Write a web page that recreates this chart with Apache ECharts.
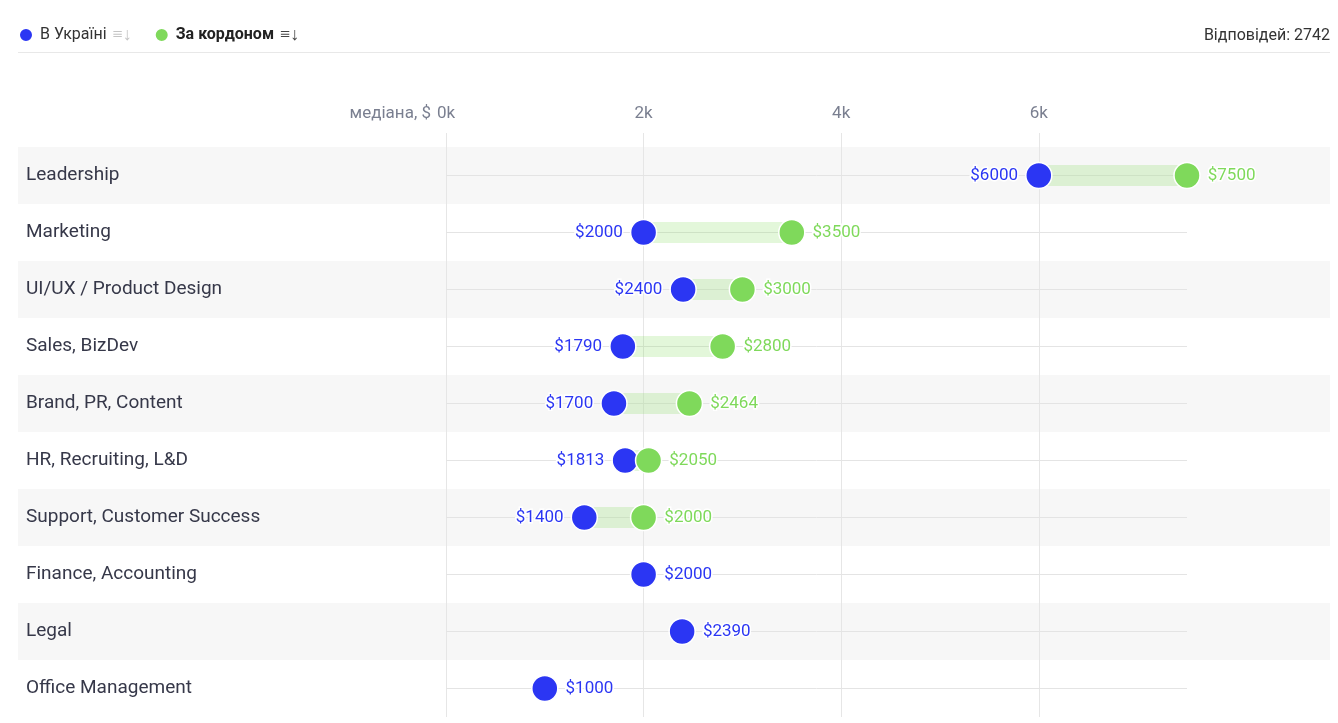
<!DOCTYPE html>
<html><head><meta charset="utf-8">
<script src="https://cdn.jsdelivr.net/npm/echarts@6/dist/echarts.min.js"></script>
<style>html,body{margin:0;padding:0;background:#fff}#c{width:1338px;height:723px}</style>
</head><body><div id="c"></div>
<script>
const categories = ['Leadership','Marketing','UI/UX / Product Design','Sales, BizDev','Brand, PR, Content','HR, Recruiting, L&D','Support, Customer Success','Finance, Accounting','Legal','Office Management'];
const ukraine = [6000,2000,2400,1790,1700,1813,1400,2000,2390,1000];
const abroad  = [7500,3500,3000,2800,2464,2050,2000,null,null,null];
const xTickValues = [0,2000,4000,6000];
const xMax = 7500;
const responses = 2742;

const FONT = 'Roboto';
const FS = {row:19, val:17, axis:17, legend:16, icon:18};
const BLUE = '#2b36f3', GREEN = '#7fd95b';
const rangeBase = ukraine.map((v,i)=> abroad[i]==null ? '-' : Math.min(v, abroad[i]));
const rangeLen  = ukraine.map((v,i)=> abroad[i]==null ? '-' : Math.abs(abroad[i]-v));

const chart = echarts.init(document.getElementById('c'));
chart.setOption({
  animation:false,
  textStyle:{fontFamily:FONT},
  title:{text:'Відповідей: '+responses, right:3, top:23,
    textStyle:{fontSize:FS.legend, fontWeight:'normal', color:'#333', fontFamily:FONT}},
  legend:{data:['В Україні','За кордоном'], left:18, top:26, padding:0, icon:'circle', itemWidth:18, itemHeight:14, itemGap:22,
    selectedMode:false,
    formatter: n => n==='В Україні' ? '{a|'+n+'}  {ia|≡↓}' : '{b|'+n+'}  {ib|≡↓}',
    textStyle:{fontFamily:FONT, rich:{
      a:{fontSize:FS.legend, color:'#333', fontFamily:FONT},
      b:{fontSize:FS.legend, color:'#222', fontWeight:'bold', fontFamily:FONT},
      ia:{fontSize:FS.icon, color:'#c4c4c4'},
      ib:{fontSize:FS.icon, color:'#444'}
    }}},
  graphic:[{type:'rect', left:18, top:52, shape:{width:1312, height:1}, style:{fill:'#e8e8e8'}, silent:true}],
  grid:[
    {left:446, right:151, top:147, bottom:6, containLabel:false},
    {left:18, right:8, top:147, bottom:6, containLabel:false}
  ],
  xAxis:[
    {type:'value', gridIndex:0, position:'top', min:0, max:xMax, interval:2000, z:1,
     name:'медіана, $', nameLocation:'start', nameGap:15, nameMoveOverlap:false,
     nameTextStyle:{color:'#7a7f90', fontSize:FS.axis, fontFamily:FONT, verticalAlign:'bottom', padding:[0,0,25,0]},
     axisLine:{show:false},
     axisTick:{show:true, length:14, inside:false, lineStyle:{color:'#e6e6e6'}, customValues:xTickValues},
     axisLabel:{margin:25, color:'#7a7f90', fontSize:FS.axis, fontFamily:FONT, customValues:xTickValues,
       formatter: v => (v % 2000 === 0) ? (v/1000)+'k' : ''},
     splitLine:{show:true, lineStyle:{color:'#e6e6e6'}}},
    {type:'value', gridIndex:1, show:false, min:0, max:1}
  ],
  yAxis:[
    {type:'category', gridIndex:0, data:categories, inverse:true, z:1,
     axisLine:{show:false},
     axisTick:{show:true, alignWithLabel:true, inside:true, length:741, lineStyle:{color:'#e4e4e4'}},
     axisLabel:{margin:420, align:'left', color:'#363849', fontSize:FS.row, fontFamily:FONT, padding:[6,0,0,0]},
     splitLine:{show:false}},
    {type:'category', gridIndex:1, data:categories, inverse:true, z:0,
     axisLine:{show:false}, axisTick:{show:false}, axisLabel:{show:false},
     splitLine:{show:false},
     splitArea:{show:true, areaStyle:{color:['#f7f7f7','#ffffff']}}}
  ],
  series:[
    {type:'bar', xAxisIndex:0, yAxisIndex:0, stack:'r', data:rangeBase, barWidth:21, silent:true,
     itemStyle:{color:'rgba(0,0,0,0)'}},
    {type:'bar', xAxisIndex:0, yAxisIndex:0, stack:'r', data:rangeLen, barWidth:21, silent:true,
     itemStyle:{color:'rgba(126,217,87,0.22)'}},
    {type:'scatter', name:'В Україні', xAxisIndex:0, yAxisIndex:0, symbol:'circle', symbolSize:26, z:3,
     itemStyle:{color:BLUE, borderColor:'#fff', borderWidth:1.5, opacity:1},
     data: ukraine.map((v,i)=>({value:[v, categories[i]], label:{position: abroad[i]==null ? 'right' : 'left'}})),
     label:{show:true, formatter:p=>'$'+p.value[0], color:BLUE, fontSize:FS.val, fontFamily:FONT, distance:7,
       padding:[4,0,0,0], textBorderColor:'#fff', textBorderWidth:3}},
    {type:'scatter', name:'За кордоном', xAxisIndex:0, yAxisIndex:0, symbol:'circle', symbolSize:26, z:4,
     itemStyle:{color:GREEN, borderColor:'#fff', borderWidth:1.5, opacity:1},
     data: abroad.map((v,i)=> v==null ? null : [v, categories[i]]).filter(d=>d),
     label:{show:true, position:'right', formatter:p=>'$'+p.value[0], color:GREEN, fontSize:FS.val, fontFamily:FONT, distance:7,
       padding:[4,0,0,0], textBorderColor:'#fff', textBorderWidth:3}}
  ]
});
</script></body></html>
